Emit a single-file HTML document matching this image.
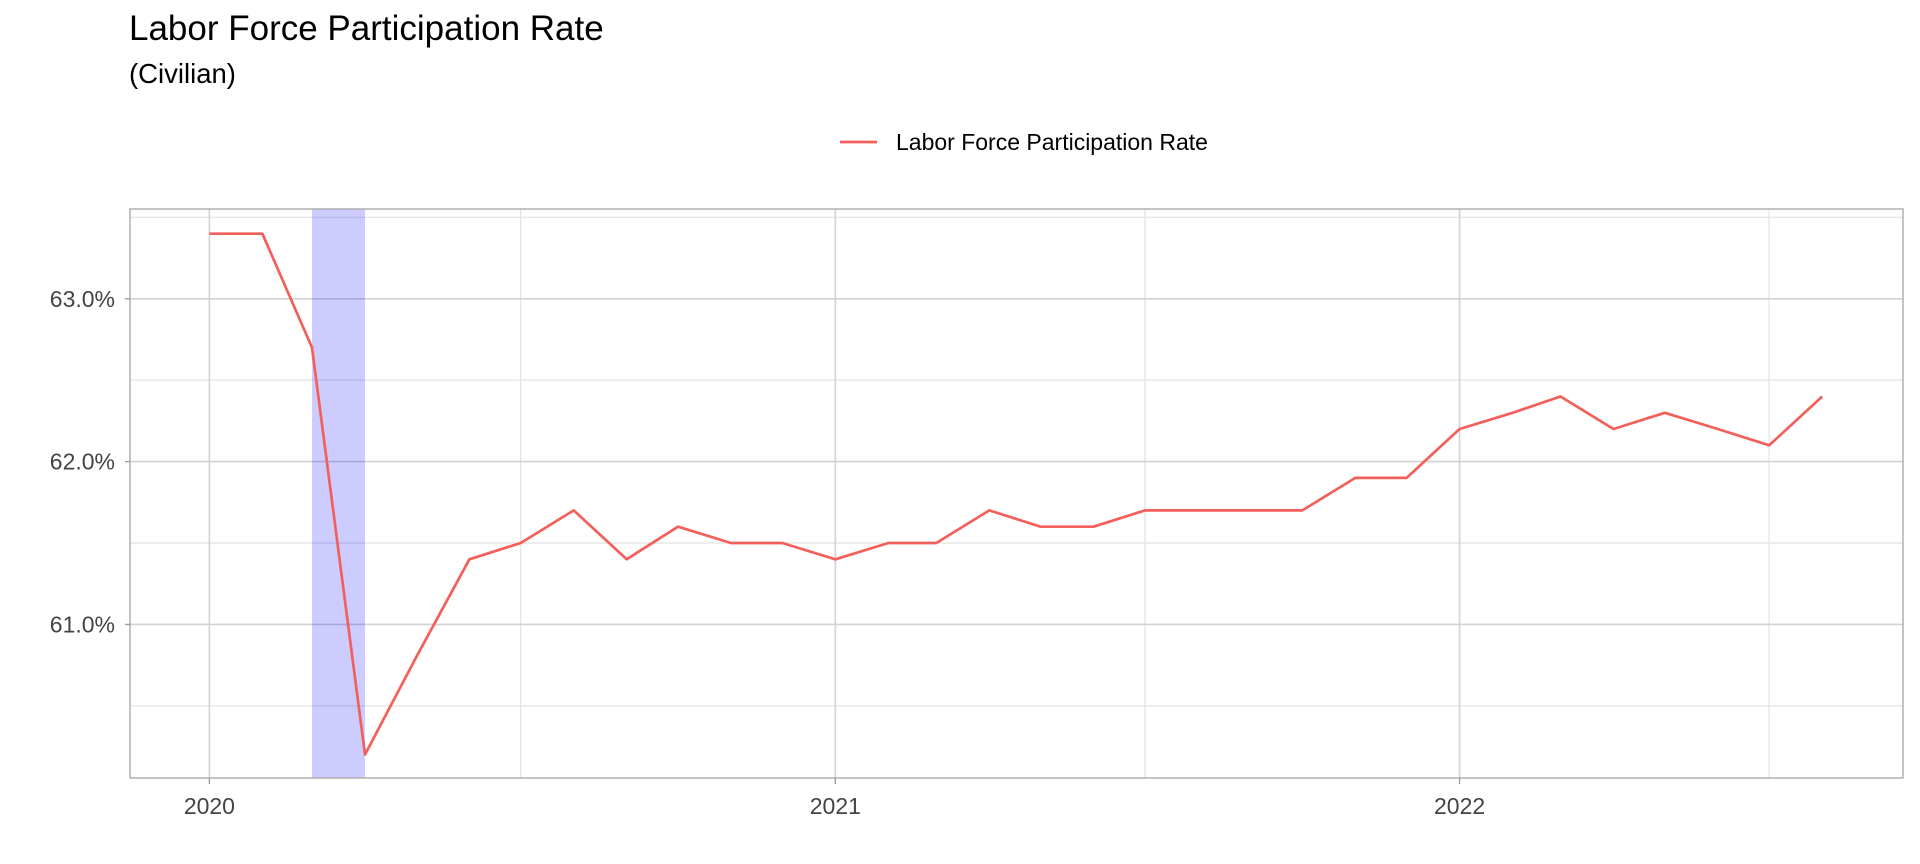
<!DOCTYPE html>
<html><head><meta charset="utf-8">
<style>
html,body{margin:0;padding:0;background:#fff;}
svg{display:block;font-family:"Liberation Sans",Arial,sans-serif;}
</style></head>
<body>
<svg id="chart" width="1920" height="864" viewBox="0 0 1920 864">
<text x="129" y="40" font-size="35" fill="#000">Labor Force Participation Rate</text>
<text x="129" y="83" font-size="27.5" fill="#000">(Civilian)</text>
<g>
<line x1="840" y1="142" x2="877" y2="142" stroke="#f35f5a" stroke-width="2.8"/>
<text x="896" y="150" font-size="23" fill="#000">Labor Force Participation Rate</text>
</g>
<g id="grid"></g>
<g id="shade"></g>
<g id="series"></g>
<rect x="130" y="209" width="1773" height="569" fill="none" stroke="#aaaaaa" stroke-width="1.4"/>
<g id="axes"></g>
</svg>
<script>
const dates = ["2020-01","2020-02","2020-03","2020-04","2020-05","2020-06","2020-07","2020-08","2020-09","2020-10","2020-11","2020-12",
"2021-01","2021-02","2021-03","2021-04","2021-05","2021-06","2021-07","2021-08","2021-09","2021-10","2021-11","2021-12",
"2022-01","2022-02","2022-03","2022-04","2022-05","2022-06","2022-07","2022-08"];
const values = [63.4,63.4,62.7,60.2,60.8,61.4,61.5,61.7,61.4,61.6,61.5,61.5,
61.4,61.5,61.5,61.7,61.6,61.6,61.7,61.7,61.7,61.7,61.9,61.9,
62.2,62.3,62.4,62.2,62.3,62.2,62.1,62.4];
const yTicks = [61,62,63];
const yTickLabels = ["61.0%","62.0%","63.0%"];
const yMinor = [60.5,61.5,62.5,63.5];
const xTicks = ["2020-01","2021-01","2022-01"];
const xTickLabels = ["2020","2021","2022"];
const xMinor = ["2020-07","2021-07","2022-07"];
const recessions = [["2020-03","2020-04"]];

const NS="http://www.w3.org/2000/svg";
const L=130,R=1903,T=209,B=778;
const d0=Date.UTC(2020,0,1), d1=Date.UTC(2022,0,1);
function ms(s){const p=s.split("-");return Date.UTC(+p[0],+p[1]-1,1);}
function x(s){return 209.4+(ms(s)-d0)/(d1-d0)*(1459.6-209.4);}
function y(v){return 298.8+(63-v)*162.8;}
function mk(tag,attrs,parent){const e=document.createElementNS(NS,tag);for(const k in attrs)e.setAttribute(k,attrs[k]);parent.appendChild(e);return e;}
const grid=document.getElementById('grid'),shade=document.getElementById('shade'),series=document.getElementById('series'),axes=document.getElementById('axes');

yMinor.forEach(v=>{const e=mk('line',{x1:L,x2:R,y1:y(v),y2:y(v),stroke:'#e6e6e6','stroke-width':1.4},grid);

});
xMinor.forEach(s=>{const e=mk('line',{x1:x(s),x2:x(s),y1:T,y2:B,stroke:'#e6e6e6','stroke-width':1.4},grid);

});
yTicks.forEach((v,i)=>{const e=mk('line',{x1:L,x2:R,y1:y(v),y2:y(v),stroke:'#d2d2d2','stroke-width':1.6},grid);


const t=mk('line',{x1:L-5,x2:L,y1:y(v),y2:y(v),stroke:'#999','stroke-width':1.3},axes);


const lb=mk('text',{x:115,y:y(v)+8,'text-anchor':'end','font-size':23,fill:'#444'},axes);
lb.textContent=yTickLabels[i];

});
xTicks.forEach((s,i)=>{const e=mk('line',{x1:x(s),x2:x(s),y1:T,y2:B,stroke:'#d2d2d2','stroke-width':1.6},grid);


const t=mk('line',{x1:x(s),x2:x(s),y1:B,y2:B+6,stroke:'#999','stroke-width':1.3},axes);


const lb=mk('text',{x:x(s),y:814,'text-anchor':'middle','font-size':23,fill:'#444'},axes);
lb.textContent=xTickLabels[i];

});
recessions.forEach(r=>{const e=mk('rect',{x:x(r[0]),y:T,width:x(r[1])-x(r[0]),height:B-T,fill:'rgba(0,0,255,0.2)'},shade);

});
const pts=dates.map((s,i)=>x(s).toFixed(1)+','+y(values[i]).toFixed(1)).join(' ');
const pl=mk('polyline',{points:pts,fill:'none',stroke:'#f35f5a','stroke-width':2.7,'stroke-linejoin':'round'},series);


</script>
</body></html>
